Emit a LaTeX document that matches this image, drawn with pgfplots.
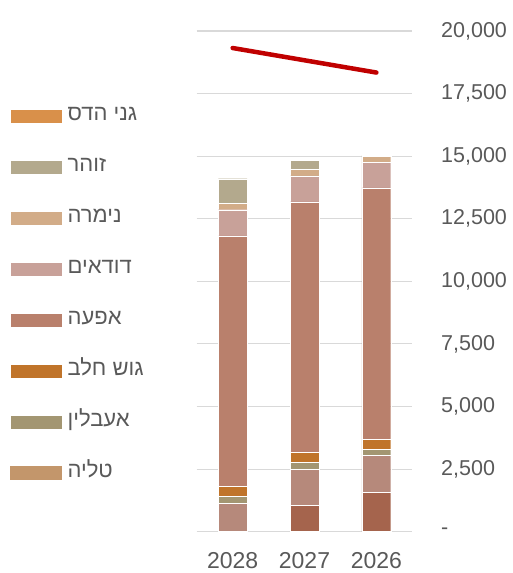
\documentclass[border=0pt]{standalone}
\usepackage{pgfplots}
\pgfplotsset{compat=1.18}
\usepackage{fontspec}
\setmainfont{Liberation Sans}
\newfontfamily\hebfont[Script=Hebrew]{Liberation Sans}
\TeXXeTstate=1
\definecolor{cDark}{HTML}{A5644D}
\definecolor{cMauve}{HTML}{B6897B}
\definecolor{cTalia}{HTML}{C3966B}
\definecolor{cAabl}{HTML}{A39672}
\definecolor{cGush}{HTML}{C0742A}
\definecolor{cEfe}{HTML}{B9806C}
\definecolor{cDud}{HTML}{C8A199}
\definecolor{cNim}{HTML}{D2AC88}
\definecolor{cZoh}{HTML}{B3A98D}
\definecolor{cGani}{HTML}{D9904A}
\definecolor{cGrid}{HTML}{D9D9D9}
\definecolor{cTxt}{HTML}{595959}
\definecolor{cRed}{HTML}{C00000}
\begin{document}
\begin{tikzpicture}
\useasboundingbox (0,0) rectangle (513pt,573pt);
\begin{axis}[
  at={(196.7pt,41.3pt)}, anchor=south west,
  scale only axis, width=215.6pt, height=500.7pt,
  ybar stacked, bar width=0.4,
  xmin=-0.5, xmax=2.5, ymin=0, ymax=20000,
  xtick={0,1,2}, xticklabels={2028,2027,2026},
  ytick={0,2500,5000,7500,10000,12500,15000,17500,20000},
  yticklabels={{-},{2,500},{5,000},{7,500},{10,000},{12,500},{15,000},{17,500},{20,000}},
  scaled y ticks=false,
  yticklabel pos=right,
  major tick length=0pt,
  axis line style={draw=none},
  ymajorgrids, grid style={cGrid, line width=1.1pt},
  tick label style={font=\fontsize{21.5}{25}\selectfont, text=cTxt},
  yticklabel style={anchor=west, inner sep=0pt, xshift=28.7pt},
  xticklabel style={anchor=north, inner sep=0pt, yshift=-21pt, font=\fontsize{23}{27}\selectfont},
  every axis plot/.append style={draw=white, line width=0.4pt},
  reverse legend,
  legend cell align=left,
  legend image code/.code={\fill[#1] (0pt,-7pt) rectangle (52pt,7pt);},
  legend style={at={(axis description cs:-0.866,0.85)}, anchor=north west, draw=none, fill=none,
    inner sep=0pt, row sep=32pt, font=\fontsize{22}{26}\selectfont, text=cTxt,
    nodes={inner sep=0pt, text height=14pt, text depth=5pt},
    /tikz/every odd column/.append style={column sep=5pt}},
]
\addplot[fill=cDark, forget plot] coordinates {(0,0) (1,1050) (2,1560)};
\addplot[fill=cMauve, forget plot] coordinates {(0,1130) (1,1450) (2,1490)};
\addplot[fill=cTalia, draw=none] coordinates {(0,0) (1,0) (2,0)};
\addlegendentry{\hebfont\beginR טליה\endR}
\addplot[fill=cAabl] coordinates {(0,290) (1,270) (2,240)};
\addlegendentry{\hebfont\beginR אעבלין\endR}
\addplot[fill=cGush] coordinates {(0,400) (1,400) (2,400)};
\addlegendentry{\hebfont\beginR גוש חלב\endR}
\addplot[fill=cEfe] coordinates {(0,10000) (1,10000) (2,10040)};
\addlegendentry{\hebfont\beginR אפעה\endR}
\addplot[fill=cDud] coordinates {(0,1040) (1,1040) (2,1010)};
\addlegendentry{\hebfont\beginR דודאים\endR}
\addplot[fill=cNim] coordinates {(0,260) (1,250) (2,240)};
\addlegendentry{\hebfont\beginR נימרה\endR}
\addplot[fill=cZoh] coordinates {(0,980) (1,380) (2,50)};
\addlegendentry{\hebfont\beginR זוהר\endR}
\addplot[fill=cGani] coordinates {(0,0) (1,0) (2,0)};
\addlegendentry{\hebfont\beginR גני הדס\endR}
\end{axis}
\begin{axis}[
  at={(196.7pt,41.3pt)}, anchor=south west,
  scale only axis, width=215.6pt, height=500.7pt,
  xmin=-0.5, xmax=2.5, ymin=0, ymax=20000,
  hide axis,
]
\addplot[cRed, line width=4.5pt, line cap=round, mark=none] coordinates {(0,19320) (1,18830) (2,18340)};
\end{axis}
\end{tikzpicture}
\end{document}
